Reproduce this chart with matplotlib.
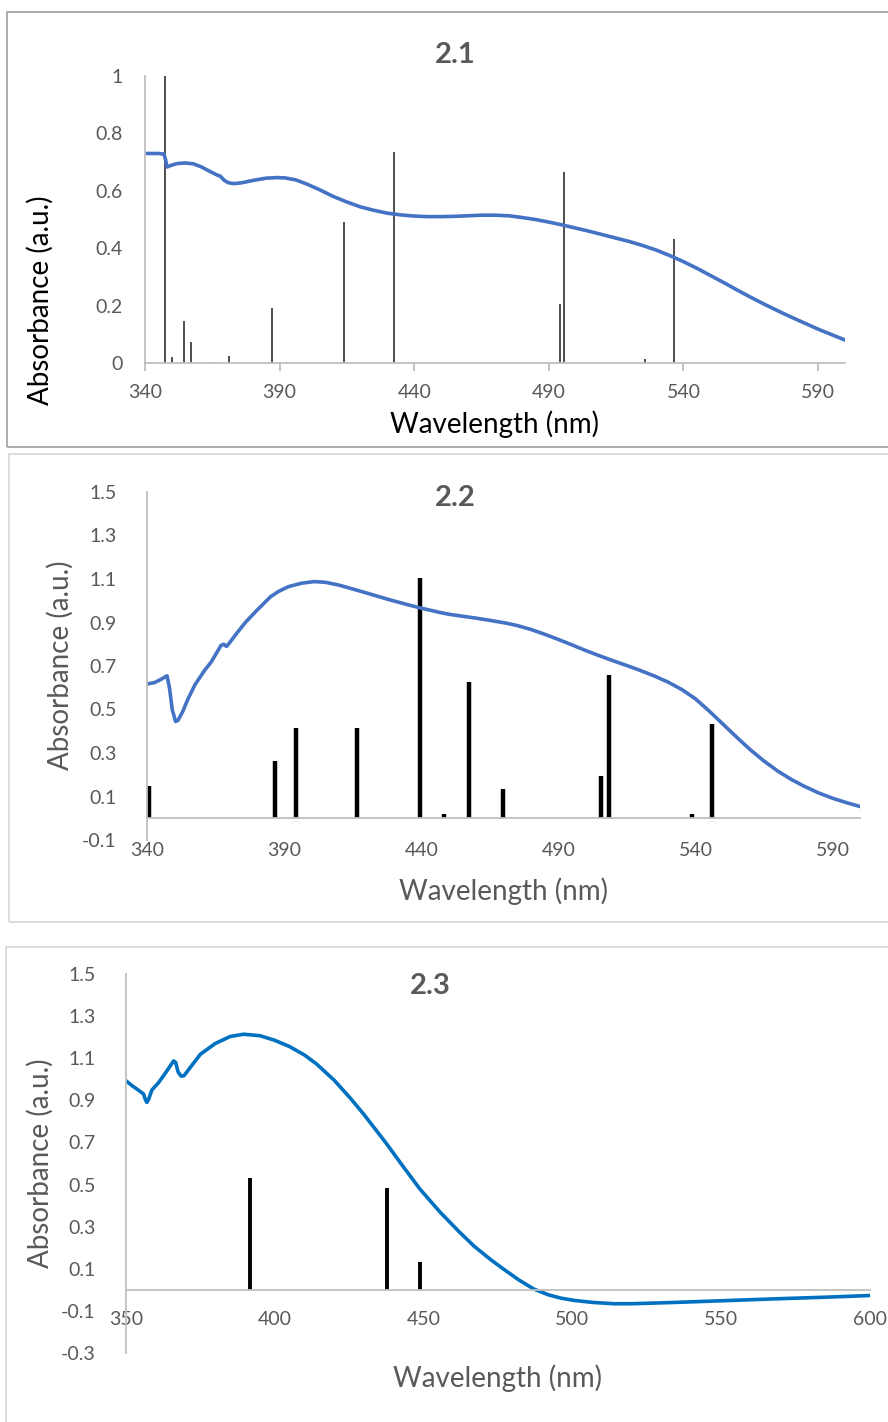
import matplotlib.pyplot as plt
from matplotlib.patches import Rectangle

# ===== DATA =====
# 2.1 : spectre + transitions calculées
wl_1 = [340, 345, 347, 347.6, 348.2, 349.5, 352, 355, 358, 361, 364, 367, 368,
        369.5, 371, 373, 376, 380, 385, 389, 392, 396, 400, 405, 410, 415, 420,
        425, 430, 435, 440, 445, 450, 455, 460, 465, 470, 475, 480, 485, 490,
        495, 500, 505, 510, 515, 520, 525, 530, 535, 540, 545, 550, 555, 560,
        565, 570, 575, 580, 585, 590, 595, 600]
abs_1 = [0.730, 0.730, 0.728, 0.710, 0.683, 0.688, 0.695, 0.697, 0.694, 0.683,
         0.668, 0.654, 0.651, 0.636, 0.628, 0.625, 0.628, 0.636, 0.644, 0.646,
         0.645, 0.638, 0.624, 0.603, 0.580, 0.561, 0.544, 0.532, 0.522, 0.516,
         0.512, 0.510, 0.510, 0.511, 0.513, 0.515, 0.515, 0.513, 0.507, 0.500,
         0.491, 0.481, 0.470, 0.459, 0.447, 0.435, 0.423, 0.409, 0.393, 0.374,
         0.353, 0.330, 0.305, 0.280, 0.254, 0.229, 0.205, 0.182, 0.160, 0.139,
         0.118, 0.099, 0.080]
st_wl_1 = [347.5, 349.9, 354.5, 357.0, 364.4, 371.1, 387.2, 414.0, 432.5,
           494.2, 495.6, 525.6, 536.3]
st_f_1 = [1.0, 0.022, 0.147, 0.072, 0.005, 0.025, 0.19, 0.49, 0.734,
          0.204, 0.667, 0.013, 0.431]

# 2.2
wl_2 = [340, 342.8, 345, 347.3, 348.2, 349.2, 350.4, 351.3, 353, 355, 357.5,
        361, 363.5, 367, 368, 369, 370, 373, 376, 380, 385, 388, 391.6, 396.5,
        401, 405, 410, 415, 420, 428, 435, 440, 446.5, 450, 455, 460, 465, 471,
        475, 480, 485, 490, 495, 500, 505, 510, 515, 520, 525, 530, 535, 540,
        545, 550, 555, 560, 565, 570, 575, 580, 585, 590, 595, 600]
abs_2 = [0.617, 0.624, 0.638, 0.655, 0.600, 0.500, 0.445, 0.450, 0.490, 0.550,
         0.614, 0.680, 0.720, 0.795, 0.800, 0.790, 0.805, 0.855, 0.902, 0.955,
         1.018, 1.043, 1.065, 1.081, 1.088, 1.085, 1.072, 1.054, 1.036, 1.006,
         0.982, 0.966, 0.947, 0.938, 0.929, 0.920, 0.910, 0.897, 0.886, 0.868,
         0.846, 0.822, 0.797, 0.771, 0.747, 0.724, 0.702, 0.679, 0.654, 0.626,
         0.592, 0.549, 0.493, 0.433, 0.373, 0.315, 0.263, 0.217, 0.178, 0.145,
         0.116, 0.092, 0.072, 0.054]
st_wl_2 = [340.6, 386.7, 394.3, 416.5, 439.4, 448.4, 457.6, 469.9, 478.7,
           505.4, 508.4, 538.9, 545.9]
st_f_2 = [0.15, 0.264, 0.413, 0.413, 1.103, 0.021, 0.626, 0.134, 0.003,
          0.193, 0.658, 0.018, 0.432]

# 2.3
wl_3 = [350, 352, 354, 355.9, 356.6, 357, 357.6, 358.7, 361, 363.5, 366, 366.7,
        367.5, 368.5, 369.5, 371, 375, 380, 385, 389.5, 395, 400, 405, 410, 414,
        420, 425.4, 430, 437.6, 443, 448.8, 455.6, 462, 467, 472.4, 477, 482,
        487, 492, 496, 500.4, 507, 514, 520, 534, 550, 567.6, 585, 600]
abs_3 = [0.993, 0.970, 0.950, 0.930, 0.900, 0.890, 0.905, 0.949, 0.985, 1.035,
         1.087, 1.080, 1.035, 1.015, 1.017, 1.045, 1.119, 1.170, 1.203, 1.214,
         1.207, 1.185, 1.155, 1.115, 1.073, 0.995, 0.910, 0.832, 0.693, 0.588,
         0.478, 0.368, 0.275, 0.207, 0.145, 0.097, 0.047, 0.004, -0.024, -0.039,
         -0.050, -0.060, -0.066, -0.066, -0.060, -0.052, -0.043, -0.035, -0.027]
st_wl_3 = [391.8, 437.6, 448.8]
st_f_3 = [0.533, 0.486, 0.132]

xt_1 = [340, 390, 440, 490, 540, 590]
yt_1 = [0, 0.2, 0.4, 0.6, 0.8, 1]
xt_2 = [340, 390, 440, 490, 540, 590]
yt_2 = [-0.1, 0.1, 0.3, 0.5, 0.7, 0.9, 1.1, 1.3, 1.5]
xt_3 = [350, 400, 450, 500, 550, 600]
yt_3 = [-0.3, -0.1, 0.1, 0.3, 0.5, 0.7, 0.9, 1.1, 1.3, 1.5]
# ================

plt.rcParams['font.family'] = ['Lato', 'DejaVu Sans']

W, H = 888, 1422
GRIS = '#595959'
AXE = '#BFBFBF'

fig = plt.figure(figsize=(W / 100, H / 100), dpi=100)


def rect(l, t, r, b):
    return [l / W, 1 - b / H, (r - l) / W, (b - t) / H]


def pt(x, y):
    return x / W, 1 - y / H


# cadres des trois graphiques
for (l, t, r, b), c in [((7, 12, 900, 447), '#A6A6A6'),
                        ((9, 454, 900, 922), '#D9D9D9'),
                        ((6, 947, 900, 1440), '#D9D9D9')]:
    fig.patches.append(Rectangle(pt(l, b), (r - l) / W, (b - t) / H,
                                 transform=fig.transFigure, fill=False,
                                 edgecolor=c, linewidth=1.3))


def habiller(ax, xlim, ylim, xt, yt, xpad, ypad, ticklen):
    ax.set_xlim(xlim)
    ax.set_ylim(ylim)
    for s in ['top', 'right']:
        ax.spines[s].set_visible(False)
    ax.spines['bottom'].set_position(('data', 0))
    for s in ['bottom', 'left']:
        ax.spines[s].set_color(AXE)
        ax.spines[s].set_linewidth(1.3)
    ax.set_xticks(xt)
    ax.set_xticklabels([f'{v:g}' for v in xt])
    ax.set_yticks(yt)
    ax.set_yticklabels([f'{v:g}' for v in yt])
    ax.tick_params(axis='x', length=ticklen, color=AXE, width=1.3,
                   pad=xpad, labelsize=14, labelcolor=GRIS)
    ax.tick_params(axis='y', length=0, pad=ypad, labelsize=14,
                   labelcolor=GRIS)
    ax.patch.set_alpha(0)


# ---- 2.1 ----
ax1 = fig.add_axes(rect(145, 76, 845, 363))
ax1.vlines(st_wl_1, 0, st_f_1, color='#404040', linewidth=1.3)
ax1.plot(wl_1, abs_1, color='#4472C4', linewidth=2.6, solid_joinstyle='round')
habiller(ax1, (340, 600), (0, 1), xt_1, yt_1, 9, 16, 6)
fig.text(*pt(455, 55), '2.1', ha='center', va='center', fontsize=21,
         fontweight='bold', color=GRIS)
fig.text(*pt(494, 424), 'Wavelength (nm)', ha='center', va='center',
         fontsize=20, color='black')
fig.text(*pt(40, 300), 'Absorbance (a.u.)', ha='center', va='center',
         fontsize=20, color='black', rotation=90)

# ---- 2.2 ----
ax2 = fig.add_axes(rect(147, 492, 860, 840))
ax2.vlines(st_wl_2, 0, st_f_2, color='black', linewidth=3.2)
ax2.plot(wl_2, abs_2, color='#4472C4', linewidth=2.6, solid_joinstyle='round')
habiller(ax2, (340, 600), (-0.1, 1.5), xt_2, yt_2, 17, 22, 0)
fig.text(*pt(455, 498), '2.2', ha='center', va='center', fontsize=21,
         fontweight='bold', color=GRIS)
fig.text(*pt(503, 891), 'Wavelength (nm)', ha='center', va='center',
         fontsize=20, color=GRIS)
fig.text(*pt(60, 665), 'Absorbance (a.u.)', ha='center', va='center',
         fontsize=20, color=GRIS, rotation=90)

# ---- 2.3 ----
ax3 = fig.add_axes(rect(126, 974, 870, 1353))
ax3.vlines(st_wl_3, 0, st_f_3, color='black', linewidth=2.8)
ax3.plot(wl_3, abs_3, color='#0070C0', linewidth=2.6, solid_joinstyle='round')
habiller(ax3, (350, 600), (-0.3, 1.5), xt_3, yt_3, 15, 22, 0)
fig.text(*pt(430, 986), '2.3', ha='center', va='center', fontsize=21,
         fontweight='bold', color=GRIS)
fig.text(*pt(497, 1378), 'Wavelength (nm)', ha='center', va='center',
         fontsize=20, color=GRIS)
fig.text(*pt(40, 1163), 'Absorbance (a.u.)', ha='center', va='center',
         fontsize=20, color=GRIS, rotation=90)

fig.savefig('out.png', dpi=100)
